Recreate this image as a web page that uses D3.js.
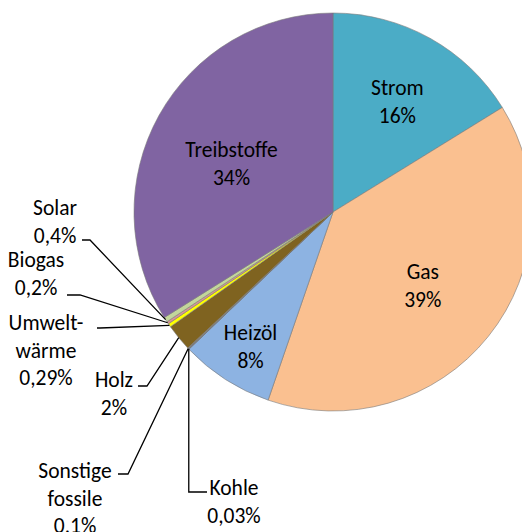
<!DOCTYPE html>
<html>
<head>
<meta charset="utf-8">
<script src="https://cdn.jsdelivr.net/npm/d3@7"></script>
<style>
  html, body { margin: 0; padding: 0; background: #fff; }
  text { font-family: Carlito, Lato, sans-serif; font-size: 21.5px; fill: #000; }
</style>
</head>
<body>
<script>
// Energieträger, Anteile in Prozent (clockwise from 12 o'clock)
const categories = ["Strom", "Gas", "Heizöl", "Kohle", "Sonstige fossile", "Holz", "Umweltwärme", "Biogas", "Solar", "Treibstoffe"];
const shares = [16.2, 39.1, 7.6, 0.03, 0.1, 2.2, 0.29, 0.2, 0.4, 33.9];
const valueLabels = ["16%", "39%", "8%", "0,03%", "0,1%", "2%", "0,29%", "0,2%", "0,4%", "34%"];
const nameLines = [["Strom"], ["Gas"], ["Heizöl"], ["Kohle"], ["Sonstige", "fossile"], ["Holz"], ["Umwelt-", "wärme"], ["Biogas"], ["Solar"], ["Treibstoffe"]];
const colors = ["#4bacc6", "#fac090", "#8db3e2", "#404040", "#7f7f7f", "#7f6320", "#ffff00", "#d99694", "#c3d69b", "#8064a2"];

const width = 522, height = 532;
const cx = 333, cy = 212, radius = 199;
const lineH = 27.5;

// label placement (layout only)
const inside = {
  0: { r: 126, dx: 3, dy: 0 },
  1: { r: 115, dx: 0, dy: 2 },
  2: { r: 160, dx: 4, dy: 0 },
  9: { r: 116, dx: 0, dy: 8 }
};
const outside = {
  3: { x: 234, y: 495, elbowY: 492, ex: 207, kind: "vertical" },
  4: { x: 75, y: 478, ex: 118, ey: 474, bx: 128 },
  5: { x: 114, y: 387, ex: 138, ey: 386, bx: 147 },
  6: { x: 46, y: 330, ex: 97, ey: 328, bx: 100 },
  7: { x: 36, y: 267, ex: 67, ey: 295, bx: 80 },
  8: { x: 55, y: 215, ex: 82, ey: 240, bx: 90 }
};

const svg = d3.select("body").append("svg")
  .attr("width", width)
  .attr("height", height);

const g = svg.append("g").attr("transform", `translate(${cx},${cy})`);

const pie = d3.pie().sort(null).value(d => d);
const arcs = pie(shares);

const arc = d3.arc().innerRadius(0).outerRadius(radius);
const edgeArc = d3.arc().innerRadius(radius).outerRadius(radius);

g.selectAll("path.slice")
  .data(arcs)
  .enter()
  .append("path")
  .attr("class", "slice")
  .attr("d", arc)
  .attr("fill", (d, i) => colors[i])
  .attr("stroke", "#7a7a7a")
  .attr("stroke-width", 0.6);

// labels inside the big slices
arcs.forEach((d, i) => {
  const o = inside[i];
  if (!o) return;
  const [x0, y0] = d3.arc().innerRadius(o.r).outerRadius(o.r).centroid(d);
  const x = x0 + o.dx, y = y0 + o.dy;
  const t = g.append("text").attr("text-anchor", "middle");
  t.append("tspan").attr("x", x).attr("y", y - 6.5).text(nameLines[i][0]);
  t.append("tspan").attr("x", x).attr("y", y - 6.5 + lineH).text(valueLabels[i]);
});

// outside labels with leader lines
arcs.forEach((d, i) => {
  const o = outside[i];
  if (!o) return;
  const [ax, ay] = edgeArc.centroid(d);
  const px = ax + cx, py = ay + cy;
  const pts = o.kind === "vertical"
    ? [[o.ex, o.elbowY], [px, o.elbowY], [px, py]]
    : [[o.ex, o.ey], [o.bx, o.ey], [px, py]];
  svg.append("path")
    .attr("d", d3.line()(pts))
    .attr("fill", "none")
    .attr("stroke", "#000")
    .attr("stroke-width", 1.3);

  const lines = nameLines[i].concat([valueLabels[i]]);
  const t = svg.append("text").attr("text-anchor", "middle");
  lines.forEach((s, k) => {
    t.append("tspan").attr("x", o.x).attr("y", o.y + k * lineH).text(s);
  });
});
</script>
</body>
</html>
